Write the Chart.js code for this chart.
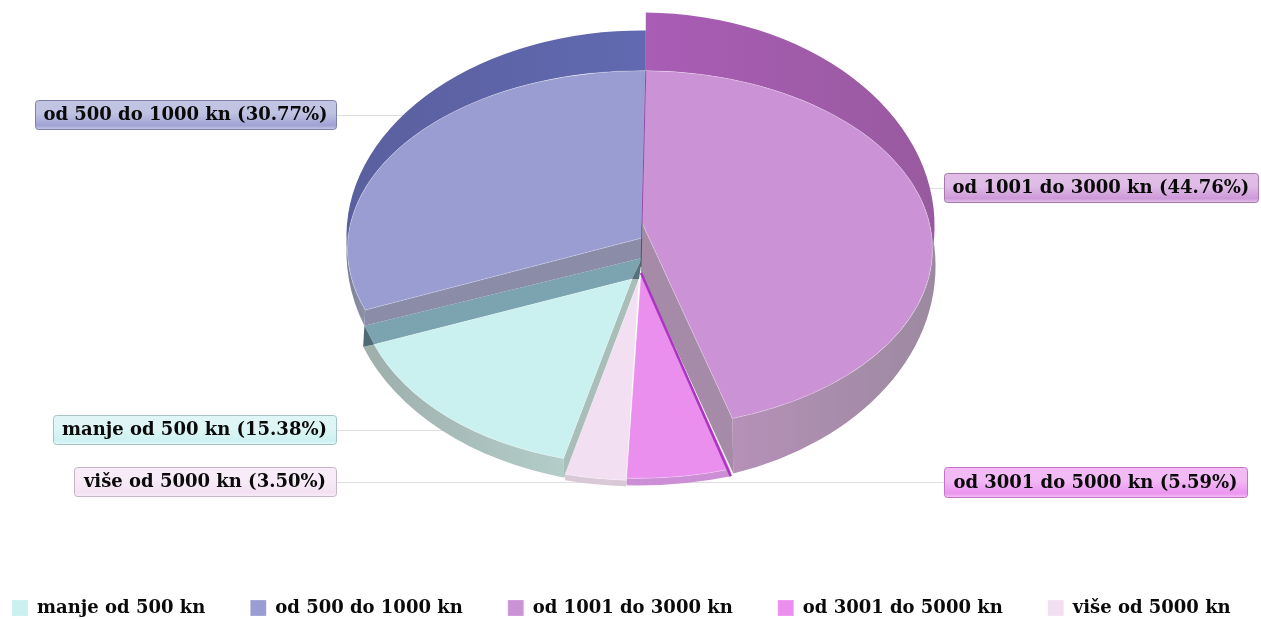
<!DOCTYPE html>
<html><head><meta charset="utf-8">
<style>html,body{margin:0;padding:0;background:#fff;overflow:hidden}#wrap{width:1261px;height:619px;position:relative}</style>
<script src="https://cdn.jsdelivr.net/npm/chart.js@4"></script>
</head><body><div id="wrap"><canvas id="c" width="1261" height="619"></canvas></div>
<script>
const categories = ['manje od 500 kn','od 500 do 1000 kn','od 1001 do 3000 kn','od 3001 do 5000 kn','više od 5000 kn'];
const shares = [15.38,30.77,44.76,5.59,3.50];
const sliceColors = ['#cbf0f0','#9a9dd1','#cb93d6','#ea8fee','#f2dff2'];

const FONT_FAMILY = 'DejaVu Serif';
const FONT_SIZE = 18;
const REF_R = 272;            // radius the pose numbers below were calibrated against
const ORIGIN = [11.5,-24];    // shift of the drawn pie from the layout centre

// Label call-outs: left, top, width, height
const calloutBoxes = [[53,415,283,29],[35,100,301,29],[944,173,314,29],[944,467,303,30],[74,467,262,29]];
const calloutEnds = [642,642,900,640,640];

// 3D pose of each slice, offsets are relative to the pie centre.
// Two numbers: fixed point. Four numbers: ellipse (dx,dy,rx,ry), evaluated at the slice's own angle.
const E = {
  cyanTop:[-9,33,275,182], cyanRim:[-4,26,292,209],
  blueTop:[0,0,294,178], blueRim:[0,2,295,218], blueBack:[0,-13,295,205],
  purpleTop:[0,0,290,178], purpleRim:[0,17,293,218], purpleBack:[0,-23,292,213],
  pinkTop:[-5,44,299,185], pinkRim:[-5,50,301,186],
  lilacTop:[-6,43,281,188], lilacRim:[-6,49,281,188]
};
const poses = [
  {apex:[-10,30],top:E.cyanTop,
   bands:[{a:E.cyanTop,b:E.cyanRim,colors:['#9fb0ad','#b3cdc9']}],
   sides:[
    {at:'end',pts:[[0,9],E.blueRim,E.cyanTop,[-10,30]],color:'#7ba4b0'},
    {at:'end',pts:[E.blueRim,E.cyanTop,E.cyanRim],color:'#4d6a75'},
    {at:'start',pts:[[-10,30],E.cyanTop,E.cyanRim,[-3,30]],color:'#a9bdb9'},
    {at:'start',pts:[[0,9],[-10,30],[-3,30]],color:'#55727c'}]},
  {apex:[0,-11],top:E.blueTop,
   back:{a:E.blueBack,b:E.blueTop,from:175,colors:['#5a5f9e','#6169b0']},
   bands:[{a:E.blueTop,b:E.blueRim,to:185,colors:['#7c7f96','#8f93aa']}],
   sides:[{at:'start',pts:[[0,-11],E.blueTop,E.blueRim,[0,9]],color:'#8a8ca8'}]},
  {apex:[0,-26],top:E.purpleTop,
   back:{a:E.purpleBack,b:E.purpleTop,to:365,colors:['#a95db5','#985a9f']},
   bands:[{a:E.purpleTop,b:E.purpleRim,from:355,colors:['#b690b8','#9c8aa0']}],
   sides:[{at:'end',pts:[[0,-26],E.purpleTop,E.purpleRim,[-1,24]],color:'#a58ba8'}]},
  {apex:[-1,24],top:E.pinkTop,
   bands:[{a:E.pinkTop,b:E.pinkRim,colors:['#cc8fd6','#cc8fd6']}],
   sides:[]},
  {apex:[-3,30],top:E.lilacTop,
   bands:[{a:E.lilacTop,b:E.lilacRim,colors:['#d9c8d6','#d9c8d6']}],
   sides:[]}
];

function geom(el){
  const p = el.getProps(['x','y','startAngle','endAngle','outerRadius'],true);
  const u = p.outerRadius/REF_R;
  return {u,cx:p.x+ORIGIN[0]*u,cy:p.y+ORIGIN[1]*u,start:p.startAngle,end:p.endAngle};
}
function ellipseAt(g,e,a){return [g.cx+(e[0]+e[2]*Math.cos(a))*g.u,g.cy+(e[1]+e[3]*Math.sin(a))*g.u];}
function arcOn(ctx,g,e,from,to,ccw){ctx.ellipse(g.cx+e[0]*g.u,g.cy+e[1]*g.u,e[2]*g.u,e[3]*g.u,0,from,to,ccw);}
const rad = d=>d*Math.PI/180;

function drawBand(ctx,g,b){
  const from = b.from!==undefined?rad(b.from):g.start, to = b.to!==undefined?rad(b.to):g.end;
  let lo=1e9,hi=-1e9;
  for(let i=0;i<=40;i++){const x=ellipseAt(g,b.a,from+(to-from)*i/40)[0];lo=Math.min(lo,x);hi=Math.max(hi,x);}
  const grad=ctx.createLinearGradient(lo,0,hi,0);
  grad.addColorStop(0,b.colors[0]);grad.addColorStop(1,b.colors[1]);
  ctx.beginPath();arcOn(ctx,g,b.a,from,to,false);arcOn(ctx,g,b.b,to,from,true);ctx.closePath();
  ctx.fillStyle=grad;ctx.fill();
}
function drawSide(ctx,g,s){
  const a=s.at==='start'?g.start:g.end;
  ctx.beginPath();
  s.pts.forEach((q,i)=>{
    const pt=q.length===4?ellipseAt(g,q,a):[g.cx+q[0]*g.u,g.cy+q[1]*g.u];
    if(i)ctx.lineTo(pt[0],pt[1]);else ctx.moveTo(pt[0],pt[1]);
  });
  ctx.closePath();ctx.fillStyle=s.color;ctx.fill();
}

class Slice3D extends Chart.ArcElement{
  draw(ctx){
    const i=this.$context.dataIndex,pose=poses[i],g=geom(this),o=this.options;
    ctx.save();
    ctx.beginPath();
    ctx.moveTo(g.cx+pose.apex[0]*g.u,g.cy+pose.apex[1]*g.u);
    arcOn(ctx,g,pose.top,g.start,g.end,false);
    ctx.closePath();
    ctx.fillStyle=o.backgroundColor;ctx.fill();
    ctx.strokeStyle=o.borderColor;ctx.lineWidth=o.borderWidth;ctx.stroke();
    ctx.restore();
  }
}
Slice3D.id='slice3d';
class Pie3D extends Chart.PieController{}
Pie3D.id='pie3d';
Pie3D.defaults={dataElementType:'slice3d'};
Chart.register(Slice3D,Pie3D);

function rgba(hex,a){const n=parseInt(hex.slice(1),16);return `rgba(${n>>16},${(n>>8)&255},${n&255},${a})`;}
function shade(hex,f){const n=parseInt(hex.slice(1),16);return `rgb(${(n>>16)*f|0},${((n>>8)&255)*f|0},${(n&255)*f|0})`;}

const LEGEND_PAD = 45;
const pie3dPlugin={
  id:'pie3dWalls',
  beforeLayout(chart){
    const lg=chart.legend;
    if(lg&&!lg._wide){
      const orig=lg.update.bind(lg);
      lg.update=(w,h,m)=>{orig(1500,h,m);};
      lg._wide=true;
    }
  },
  afterLayout(chart){
    const lg=chart.legend;
    lg.left=12-LEGEND_PAD; lg.right=lg.left+1500; lg.top=554;
  },
  beforeDatasetDraw(chart,args){
    const ctx=chart.ctx,els=chart.getDatasetMeta(args.index).data;
    ctx.save();
    // connector lines, behind the pie
    ctx.strokeStyle='#dedede';ctx.lineWidth=1;
    calloutBoxes.forEach((b,i)=>{
      const y=Math.round(b[1]+b[3]/2)+0.5,leftSide=b[0]<600;
      ctx.beginPath();ctx.moveTo(leftSide?b[0]+b[2]:b[0],y);ctx.lineTo(calloutEnds[i],y);ctx.stroke();
    });
    els.forEach((el,i)=>{if(poses[i].back)drawBand(ctx,geom(el),poses[i].back);});
    els.forEach((el,i)=>{poses[i].bands.forEach(b=>drawBand(ctx,geom(el),b));});
    els.forEach((el,i)=>{poses[i].sides.forEach(s=>drawSide(ctx,geom(el),s));});
    ctx.restore();
  },
  afterDatasetsDraw(chart){
    const ctx=chart.ctx,els=chart.getDatasetMeta(0).data;
    // seam of the largest slice
    const g=geom(els[2]),p=ellipseAt(g,E.purpleBack,g.start),q=[g.cx,g.cy-26*g.u],r=[g.cx-1*g.u,g.cy+18*g.u];
    ctx.save();
    ctx.strokeStyle='#8f4aa8';ctx.lineWidth=1;ctx.beginPath();ctx.moveTo(p[0],ellipseAt(g,E.purpleTop,g.start)[1]);ctx.lineTo(q[0],q[1]);ctx.stroke();
    ctx.strokeStyle='rgba(60,60,70,.75)';ctx.beginPath();ctx.moveTo(q[0],q[1]);ctx.lineTo(r[0],r[1]);ctx.stroke();
    // narrow magenta wall along the right edge of the pink slice
    const gp=geom(els[3]),pa=[gp.cx+poses[3].apex[0]*gp.u,gp.cy+poses[3].apex[1]*gp.u],pb=ellipseAt(gp,E.pinkRim,gp.start);
    ctx.strokeStyle='#a935c0';ctx.lineWidth=2.5;ctx.beginPath();ctx.moveTo(pa[0],pa[1]);ctx.lineTo(pb[0],pb[1]);ctx.stroke();
    // call-outs
    ctx.font=`bold ${FONT_SIZE}px "${FONT_FAMILY}"`;ctx.textAlign='center';ctx.textBaseline='middle';
    calloutBoxes.forEach((b,i)=>{
      const c=sliceColors[i];
      const grad=ctx.createLinearGradient(0,b[1],0,b[1]+b[3]);
      grad.addColorStop(0,rgba(c,.6));grad.addColorStop(.45,rgba(c,.62));grad.addColorStop(.88,rgba(c,.95));grad.addColorStop(1,rgba(c,.6));
      ctx.beginPath();ctx.roundRect(b[0]+.5,b[1]+.5,b[2],b[3],3);
      ctx.fillStyle='#fff';ctx.fill();ctx.fillStyle=grad;ctx.fill();
      ctx.strokeStyle=shade(c,.82);ctx.lineWidth=1;ctx.stroke();
      ctx.fillStyle='#0a0a0a';
      ctx.fillText(`${categories[i]} (${shares[i].toFixed(2)}%)`,b[0]+b[2]/2,b[1]+b[3]/2+1);
    });
    ctx.restore();
  }
};

new Chart(document.getElementById('c'),{
  type:'pie3d',
  data:{labels:categories,datasets:[{data:shares,backgroundColor:sliceColors,borderColor:'rgba(255,255,255,.25)',borderWidth:1,clip:false}]},
  options:{
    responsive:false,animation:false,rotation:194.6,
    events:[],
    plugins:{
      tooltip:{enabled:false},
      legend:{display:true,position:'bottom',align:'start',
        labels:{boxWidth:16,boxHeight:16,padding:LEGEND_PAD,color:'#0a0a0a',font:{family:FONT_FAMILY,weight:'bold',size:FONT_SIZE}}}
    }
  },
  plugins:[pie3dPlugin]
});
</script></body></html>
